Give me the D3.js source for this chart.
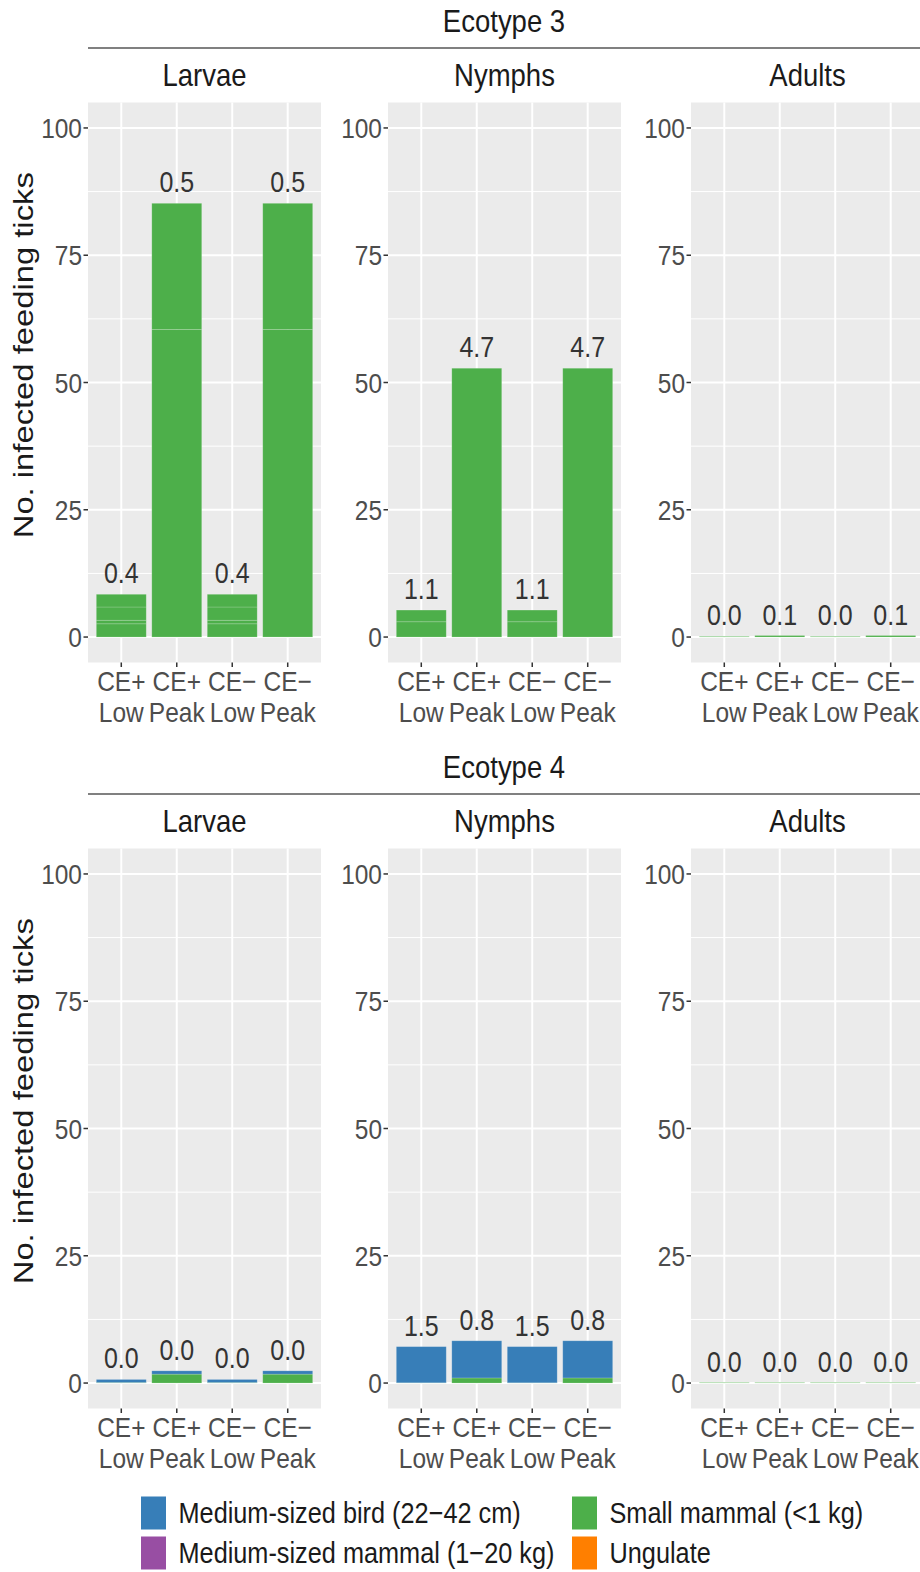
<!DOCTYPE html>
<html>
<head>
<meta charset="utf-8">
<script src="https://cdn.jsdelivr.net/npm/d3@7"></script>
<style>
  body { margin: 0; background: #ffffff; }
  text { font-family: "Liberation Sans", Arial, sans-serif; }
</style>
</head>
<body>
<svg id="chart" width="920" height="1572"></svg>
<script>
// ---- data ----
const hostGroups = ["Medium-sized bird (22\u221242 cm)", "Medium-sized mammal (1\u221220 kg)", "Small mammal (<1 kg)", "Ungulate"];
const hostColors = ["#377EB8", "#984EA3", "#4DAF4A", "#FF7F00"];
const scenarioTop = ["CE+", "CE+", "CE\u2212", "CE\u2212"];
const scenarioBottom = ["Low", "Peak", "Low", "Peak"];
const stages = ["Larvae", "Nymphs", "Adults"];
const ecotypes = ["Ecotype 3", "Ecotype 4"];
const yTicks = [0, 25, 50, 75, 100];
const yMinor = [12.5, 37.5, 62.5, 87.5];

// host segments per panel, stacked bottom to top (g = host group index)
const eco3Larvae = [
  { g: 2, v: [2.6, 60.4, 2.6, 60.4] },
  { g: 2, v: [0.7, 24.8, 0.7, 24.8] },
  { g: 2, v: [2.6, 0.0, 2.6, 0.0] },
  { g: 2, v: [2.5, 0.0, 2.5, 0.0] }
];
const eco3Nymphs = [
  { g: 2, v: [3.0, 52.8, 3.0, 52.8] },
  { g: 2, v: [2.3, 0.0, 2.3, 0.0] }
];
const eco3Adults = [
  { g: 2, v: [0.12, 0.3, 0.12, 0.3] }
];
const eco4Larvae = [
  { g: 2, v: [0.1, 1.75, 0.1, 1.75] },
  { g: 0, v: [0.6, 0.65, 0.6, 0.65] }
];
const eco4Nymphs = [
  { g: 2, v: [0.05, 1.0, 0.05, 1.0] },
  { g: 0, v: [7.1, 7.3, 7.1, 7.3] }
];
const eco4Adults = [
  { g: 2, v: [0.1, 0.1, 0.1, 0.1] }
];

// values printed above each bar
const eco3LarvaeLabels = ["0.4", "0.5", "0.4", "0.5"];
const eco3NymphsLabels = ["1.1", "4.7", "1.1", "4.7"];
const eco3AdultsLabels = ["0.0", "0.1", "0.0", "0.1"];
const eco4LarvaeLabels = ["0.0", "0.0", "0.0", "0.0"];
const eco4NymphsLabels = ["1.5", "0.8", "1.5", "0.8"];
const eco4AdultsLabels = ["0.0", "0.0", "0.0", "0.0"];

const panelSegments = [[eco3Larvae, eco3Nymphs, eco3Adults], [eco4Larvae, eco4Nymphs, eco4Adults]];
const panelLabels = [[eco3LarvaeLabels, eco3NymphsLabels, eco3AdultsLabels], [eco4LarvaeLabels, eco4NymphsLabels, eco4AdultsLabels]];

// ---- layout ----
const svg = d3.select("#chart");
svg.append("rect").attr("width", 920).attr("height", 1572).attr("fill", "#ffffff");

const SY = 1.15;                 // vertical text stretch
const panelX = [88, 388, 691];
const panelW = 233;
const rowOffset = [0, 746];
const panelTop = 102.5, panelBottom = 662.5;

function stretchedText(g, x, y, str, opts) {
  return g.append("text")
    .attr("transform", `translate(${x},${y}) scale(1,${SY})` + (opts.rotate ? ` rotate(${opts.rotate})` : ""))
    .attr("font-size", opts.size)
    .attr("fill", opts.fill || "#1A1A1A")
    .attr("text-anchor", opts.anchor || "middle")
    .text(str);
}

const xScale = d3.scalePoint().domain(d3.range(4)).range([0, panelW]).padding(0.6);
const barW = xScale.step() * 0.9;

ecotypes.forEach((eco, r) => {
  const off = rowOffset[r];
  const y = d3.scaleLinear().domain([-5, 105]).range([panelBottom + off, panelTop + off]);
  const row = svg.append("g");

  // ecotype header and rule
  stretchedText(row, (88 + 920) / 2, 32 + off, eco, { size: 27.5 });
  row.append("line").attr("x1", 88).attr("x2", 920).attr("y1", 48 + off).attr("y2", 48 + off)
    .attr("stroke", "#808080").attr("stroke-width", 2);

  // y axis title
  stretchedText(row, 33, (48 + panelBottom) / 2 + off, "No. infected feeding ticks", { size: 28.5, rotate: -90 });

  stages.forEach((stage, c) => {
    const px = panelX[c];
    const g = row.append("g").attr("transform", `translate(${px},0)`);

    stretchedText(g, panelW / 2, 86 + off, stage, { size: 27.5 });

    g.append("rect").attr("x", 0).attr("y", panelTop + off).attr("width", panelW)
      .attr("height", panelBottom - panelTop).attr("fill", "#EBEBEB");

    yMinor.forEach(v => {
      g.append("line").attr("x1", 0).attr("x2", panelW).attr("y1", y(v)).attr("y2", y(v))
        .attr("stroke", "#ffffff").attr("stroke-width", 1);
    });
    yTicks.forEach(v => {
      g.append("line").attr("x1", 0).attr("x2", panelW).attr("y1", y(v)).attr("y2", y(v))
        .attr("stroke", "#ffffff").attr("stroke-width", 2);
    });
    d3.range(4).forEach(i => {
      g.append("line").attr("x1", xScale(i)).attr("x2", xScale(i))
        .attr("y1", panelTop + off).attr("y2", panelBottom + off)
        .attr("stroke", "#ffffff").attr("stroke-width", 2);
    });

    // y axis
    yTicks.forEach(v => {
      g.append("line").attr("x1", -4.5).attr("x2", 0).attr("y1", y(v)).attr("y2", y(v))
        .attr("stroke", "#333333").attr("stroke-width", 1.5);
      stretchedText(g, -6, y(v) + 10, String(v), { size: 24.5, anchor: "end", fill: "#4D4D4D" });
    });

    // x axis
    d3.range(4).forEach(i => {
      g.append("line").attr("x1", xScale(i)).attr("x2", xScale(i))
        .attr("y1", panelBottom + off).attr("y2", panelBottom + off + 4.5)
        .attr("stroke", "#333333").attr("stroke-width", 1.5);
      stretchedText(g, xScale(i), 691 + off, scenarioTop[i], { size: 24.5, fill: "#4D4D4D" });
      stretchedText(g, xScale(i), 722 + off, scenarioBottom[i], { size: 24.5, fill: "#4D4D4D" });
    });

    // stacked bars
    const segs = panelSegments[r][c];
    const labels = panelLabels[r][c];
    d3.range(4).forEach(i => {
      let base = 0;
      segs.forEach(s => {
        const val = s.v[i];
        if (val <= 0) return;
        g.append("rect")
          .attr("x", xScale(i) - barW / 2)
          .attr("y", y(base + val))
          .attr("width", barW)
          .attr("height", y(base) - y(base + val))
          .attr("fill", hostColors[s.g])
          .attr("stroke", "rgba(255,255,255,0.22)")
          .attr("stroke-width", 0.8);
        base += val;
      });
      stretchedText(g, xScale(i), y(base) - 11, labels[i], { size: 25, fill: "#333333" });
    });
  });
});

// ---- legend ----
const legend = svg.append("g");
const legendCols = [141, 572];
const legendRows = [1513, 1553];
hostGroups.forEach((name, k) => {
  const col = Math.floor(k / 2), rowI = k % 2;
  const lx = legendCols[col], ly = legendRows[rowI];
  legend.append("rect").attr("x", lx).attr("y", ly - 16.5).attr("width", 25).attr("height", 33)
    .attr("fill", hostColors[k]);
  stretchedText(legend, lx + 37.5, ly + 10, name, { size: 25.3, anchor: "start", fill: "#1A1A1A" });
});
</script>
</body>
</html>
